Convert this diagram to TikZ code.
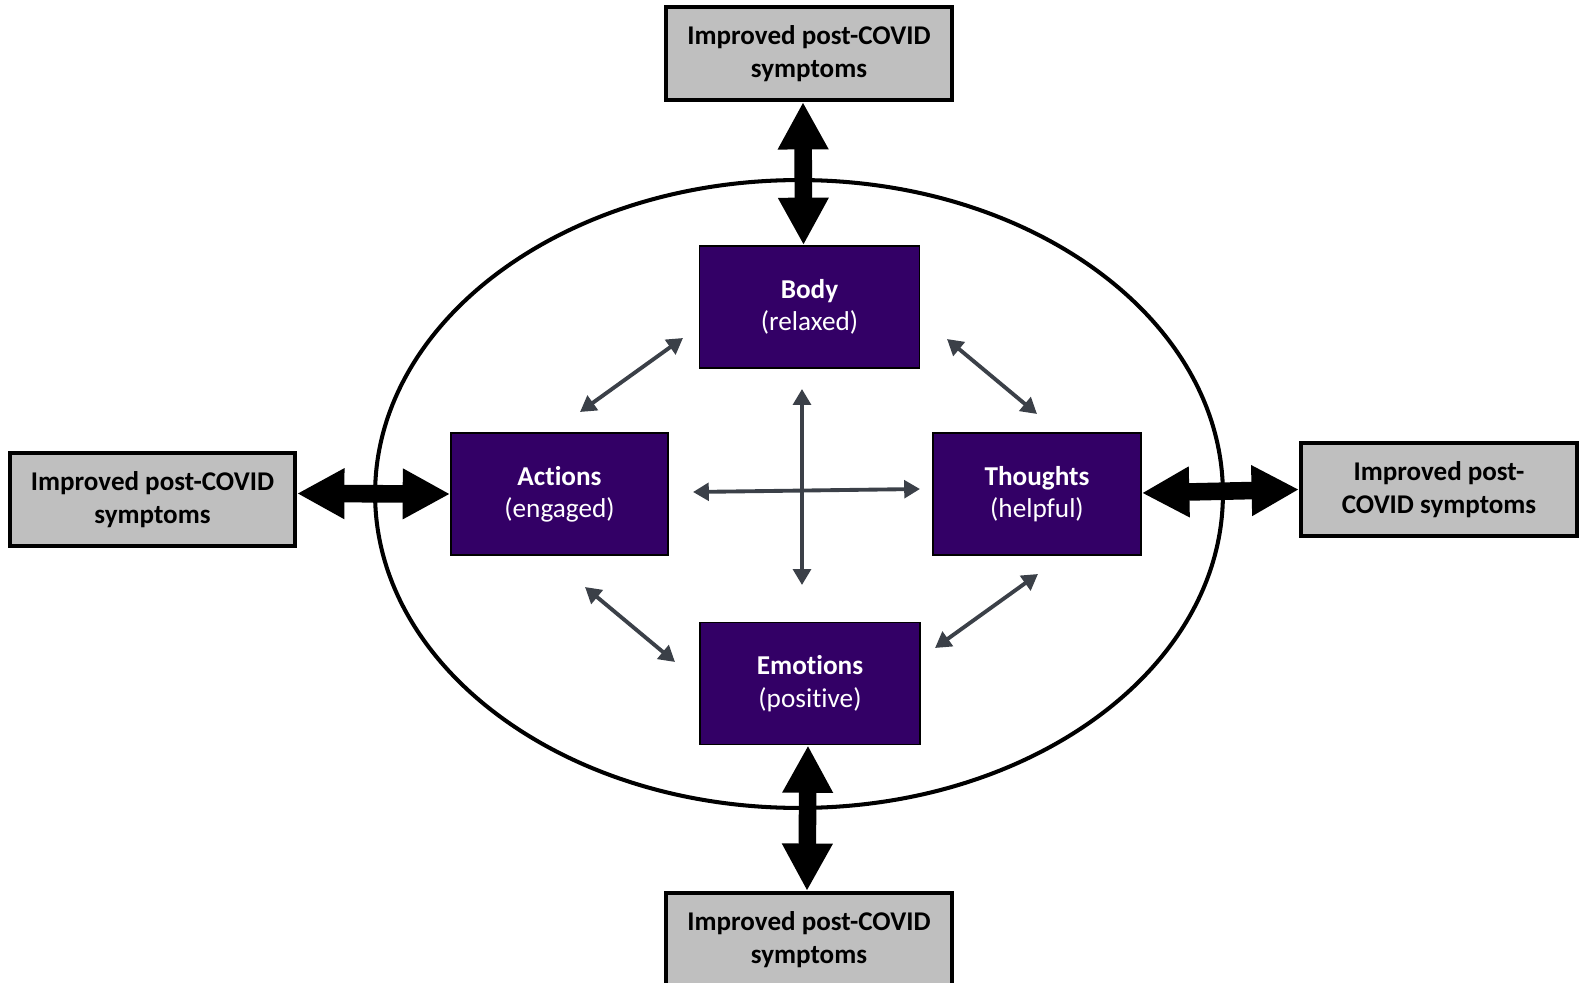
\documentclass[tikz,border=0pt]{standalone}
\usepackage{fontspec}
\setmainfont{Carlito}[Ligatures=NoCommon]
\usetikzlibrary{arrows.meta}
\definecolor{deeppurple}{HTML}{330066}
\definecolor{boxgray}{HTML}{BFBFBF}
\definecolor{slatearrow}{HTML}{3B4048}
\tikzset{
  outcome/.style={draw=black, line width=2.3pt, fill=boxgray, align=center, font=\bfseries\fontsize{15.4}{18.4}\selectfont, inner sep=0pt},
  domainbox/.style={draw=black, line width=1pt, fill=deeppurple, text=white, align=center, font=\fontsize{15.5}{18.4}\selectfont, minimum height=2.44cm, inner sep=0pt},
  bigarrow/.style={line width=10pt, {Triangle[width=27pt,length=27pt]}-{Triangle[width=27pt,length=27pt]}},
  smallarrow/.style={slatearrow, line width=2.2pt, {Triangle[width=10pt,length=9pt]}-{Triangle[width=10pt,length=9pt]}}
}
\begin{document}
\begin{tikzpicture}[x=0.02cm,y=-0.02cm]
    \useasboundingbox (0,0) rectangle (1582,983);

    % Draw the outer ellipse
    \draw[line width=2.3pt] (799,494) ellipse [x radius=8.48cm, y radius=6.28cm];

    % Four domains inside the ellipse
    \node[domainbox, minimum width=4.4cm] (body) at (809.5,307) {\textbf{Body}\\(relaxed)};
    \node[domainbox, minimum width=4.34cm] (actions) at (559.5,494) {\textbf{Actions}\\(engaged)};
    \node[domainbox, minimum width=4.16cm] (thoughts) at (1037,494) {\textbf{Thoughts}\\(helpful)};
    \node[domainbox, minimum width=4.4cm] (emotions) at (810,683.5) {\textbf{Emotions}\\(positive)};

    % Outcome boxes round the ellipse
    \node[outcome, minimum width=5.72cm, minimum height=1.86cm] (top) at (809,53.5) {Improved post-COVID\\symptoms};
    \node[outcome, minimum width=5.7cm, minimum height=1.86cm] (left) at (152.5,499.5) {Improved post-COVID\\symptoms};
    \node[outcome, minimum width=5.52cm, minimum height=1.86cm] (right) at (1439,489.5) {Improved post-\\COVID symptoms};
    \node[outcome, minimum width=5.72cm, minimum height=1.86cm] (bottom) at (809,939.5) {Improved post-COVID\\symptoms};

    % Thick two-way arrows to the outcomes
    \draw[bigarrow] ([xshift=-0.12cm]top.south) -- ([xshift=-0.12cm]body.north);
    \draw[bigarrow] ([xshift=-0.04cm]emotions.south) -- ([xshift=-0.04cm]bottom.north);
    \draw[bigarrow] ([yshift=0.12cm]left.east) -- ([yshift=0cm]actions.west);
    \draw[bigarrow] ([yshift=0.02cm]thoughts.east) -- ([yshift=0cm]right.west);

    % Thin arrows between the domains
    \coordinate (ba1) at (683,338);   \coordinate (ba2) at (580,412);
    \coordinate (bt1) at (947,339);   \coordinate (bt2) at (1037,414);
    \coordinate (ae1) at (585,587);   \coordinate (ae2) at (675,662);
    \coordinate (te1) at (1038,574);  \coordinate (te2) at (935,648);
    \coordinate (vt) at (802,389);    \coordinate (vb) at (802,585);
    \coordinate (hl) at (693,492);    \coordinate (hr) at (920,489);
    \draw[smallarrow] (ba1) -- (ba2);
    \draw[smallarrow] (bt1) -- (bt2);
    \draw[smallarrow] (ae1) -- (ae2);
    \draw[smallarrow] (te1) -- (te2);
    \draw[smallarrow] (vt) -- (vb);
    \draw[smallarrow] (hl) -- (hr);
\end{tikzpicture}
\end{document}
